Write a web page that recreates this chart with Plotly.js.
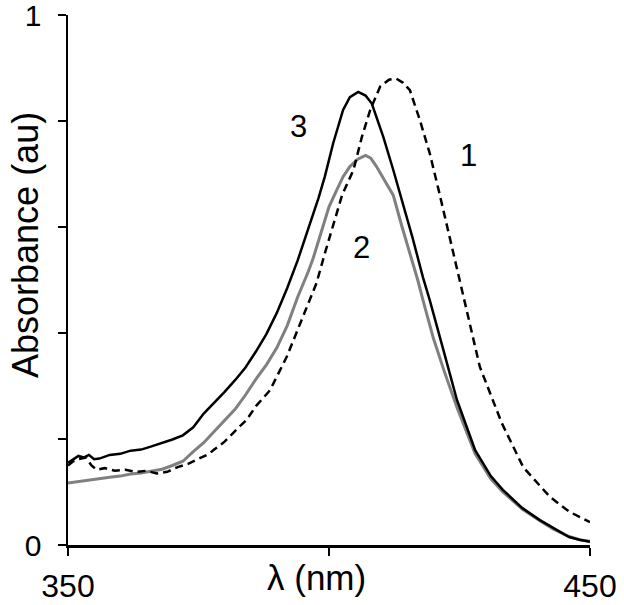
<!DOCTYPE html>
<html>
<head>
<meta charset="utf-8">
<script src="https://cdn.plot.ly/plotly-3.0.1.min.js"></script>
<style>html,body{margin:0;padding:0;background:#fff;}#chart{width:624px;height:605px;}</style>
</head>
<body>
<div id="chart"></div>
<script>
// Curve 1 (dashed)
const wl1 = [350,351,352,353.4,354.5,355.5,357,359,361,363,365,367,369,371,373,375,377,378,380,382,384.2,386,388.7,391.9,395.1,397.6,399.2,401.1,402.5,404.7,406.3,407.9,409.8,411.5,412.9,414.2,415.5,417.4,419.3,421,423,425.5,428.9,433.1,437.2,442.3,446,450];
const abs1 = [0.150,0.158,0.162,0.165,0.150,0.142,0.145,0.140,0.142,0.138,0.140,0.135,0.138,0.147,0.153,0.162,0.172,0.180,0.195,0.215,0.236,0.262,0.292,0.355,0.431,0.494,0.550,0.615,0.660,0.708,0.770,0.821,0.865,0.878,0.880,0.872,0.858,0.802,0.739,0.670,0.585,0.475,0.336,0.230,0.147,0.091,0.063,0.043];
// Curve 2 (grey)
const wl2 = [350,352,354,356,358,360,362,364,366,368,370,372,374,376,378,380,382,384,386,388,390,392,394,396,397,398.5,400,401.5,402.7,404,405.5,407,408,409.1,410.5,412.3,414,415.9,417,418,420,422,424.5,428,431,433.3,437,440.4,443,446,448,450];
const abs2 = [0.117,0.120,0.122,0.126,0.128,0.130,0.134,0.136,0.139,0.143,0.150,0.158,0.176,0.193,0.214,0.236,0.256,0.283,0.313,0.340,0.372,0.414,0.468,0.515,0.542,0.590,0.638,0.670,0.695,0.714,0.728,0.735,0.730,0.714,0.690,0.660,0.600,0.538,0.500,0.462,0.390,0.330,0.260,0.172,0.125,0.100,0.068,0.046,0.030,0.016,0.010,0.007];
// Curve 3 (black)
const wl3 = [350,351,352,353,354,355,356,358,360,362,364,366,368,370,372,374,376,378,380,382,384,386,388,390,392,394,396,398,399.2,400.8,402.7,404,405.6,407,408.2,410.4,412.3,413.6,416,418,419.3,422,424.5,428,431,433.3,437,440.4,443,446,448,450];
const abs3 = [0.155,0.162,0.168,0.165,0.170,0.162,0.163,0.170,0.172,0.178,0.180,0.186,0.192,0.199,0.207,0.222,0.248,0.268,0.289,0.311,0.335,0.365,0.398,0.438,0.485,0.537,0.594,0.655,0.695,0.758,0.821,0.845,0.855,0.848,0.833,0.770,0.708,0.664,0.580,0.505,0.462,0.365,0.274,0.179,0.130,0.104,0.070,0.047,0.032,0.015,0.010,0.006];
// Labels
const curveLabels = ['1','2','3'];
const labelX = [426.8,406.3,394.1];
const labelY = [0.734,0.562,0.789];
const yTickVals = [0,0.2,0.4,0.6,0.8,1];
const yTickText = ['0','','','','','1'];
const xTickVals = [350,400,450];
const xTickText = ['350','','450'];

const FONT = 'Liberation Sans, Arial, Helvetica, sans-serif';

const L=68, R=34, T=15, B=60, W=624, H=605;
const pw = W-L-R, ph = H-T-B;

const traces = [
  {x: wl2, y: abs2, mode:'lines', line:{color:'#808080', width:3}, hoverinfo:'skip'},
  {x: wl3, y: abs3, mode:'lines', line:{color:'#000000', width:2.5}, hoverinfo:'skip'},
  {x: wl1, y: abs1, mode:'lines', line:{color:'#000000', width:2.5, dash:'8px,5px'}, hoverinfo:'skip'}
];

const annotations = curveLabels.map((t,i)=>({
  x: labelX[i], y: labelY[i], xref:'x', yref:'y', text:t, showarrow:false,
  font:{family:FONT, size:31, color:'#000'}, xanchor:'center', yanchor:'middle'
}));
annotations.push({x:(316-L)/pw, y:(H-B-577)/ph, xref:'paper', yref:'paper', text:'λ (nm)', showarrow:false,
  font:{family:FONT, size:35, color:'#000'}, xanchor:'center', yanchor:'middle'});
annotations.push({x:(25-L)/pw, y:(H-B-245)/ph, xref:'paper', yref:'paper', textangle:-90, text:'Absorbance (au)', showarrow:false,
  font:{family:FONT, size:36, color:'#000'}, xanchor:'center', yanchor:'middle'});

const layout = {
  width: W, height: H,
  margin: {l:L, r:R, t:T, b:B, pad:0},
  paper_bgcolor:'#fff', plot_bgcolor:'#fff',
  showlegend:false,
  font:{family:FONT, color:'#000'},
  xaxis:{range:[350,450], showgrid:false, zeroline:false, showline:true, linecolor:'#000', linewidth:2.5,
    ticks:'outside', ticklen:8, tickwidth:2.5, tickcolor:'#000', tickvals:xTickVals, ticktext:xTickText,
    tickfont:{family:FONT, size:32, color:'#000'}, ticklabelstandoff:3, ticklabeloverflow:'allow',
    automargin:false, fixedrange:true},
  yaxis:{range:[0,1], showgrid:false, zeroline:false, showline:true, linecolor:'#000', linewidth:2.5,
    ticks:'outside', ticklen:8, tickwidth:2.5, tickcolor:'#000', tickvals:yTickVals, ticktext:yTickText,
    tickfont:{family:FONT, size:30, color:'#000'}, ticklabelstandoff:10, ticklabeloverflow:'allow',
    automargin:false, fixedrange:true},
  annotations: annotations
};

Plotly.newPlot('chart', traces, layout, {staticPlot:true, displayModeBar:false});
</script>
</body>
</html>
